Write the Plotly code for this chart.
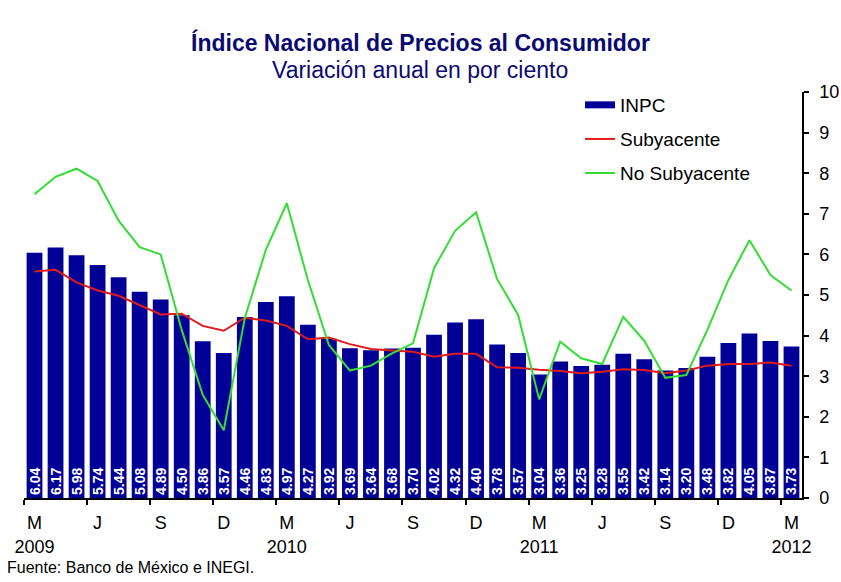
import plotly.graph_objects as go

# ---- data ----
inpc = [6.04, 6.17, 5.98, 5.74, 5.44, 5.08, 4.89, 4.50, 3.86, 3.57, 4.46, 4.83, 4.97,
        4.27, 3.92, 3.69, 3.64, 3.68, 3.70, 4.02, 4.32, 4.40, 3.78, 3.57, 3.04,
        3.36, 3.25, 3.28, 3.55, 3.42, 3.14, 3.20, 3.48, 3.82, 4.05, 3.87, 3.73]
subyacente = [5.58, 5.62, 5.31, 5.11, 4.98, 4.75, 4.52, 4.54, 4.24, 4.12, 4.44, 4.37, 4.24,
              3.91, 3.95, 3.79, 3.67, 3.63, 3.60, 3.48, 3.55, 3.55, 3.22, 3.21, 3.16,
              3.13, 3.07, 3.11, 3.17, 3.15, 3.07, 3.14, 3.26, 3.30, 3.30, 3.34, 3.26]
no_subyacente = [7.48, 7.91, 8.11, 7.81, 6.83, 6.18, 6.00, 4.14, 2.54, 1.67, 4.43, 6.11, 7.26,
                 5.37, 3.77, 3.14, 3.26, 3.56, 3.81, 5.66, 6.58, 7.04, 5.39, 4.51, 2.43,
                 3.85, 3.44, 3.30, 4.46, 3.87, 2.96, 3.03, 4.14, 5.37, 6.35, 5.49, 5.11]
months = list(range(len(inpc)))  # Mar 2009 .. Mar 2012
tick_pos = [0, 3, 6, 9, 12, 15, 18, 21, 24, 27, 30, 33, 36]
tick_text = ["M<br>2009", "J", "S", "D", "M<br>2010", "J", "S", "D",
             "M<br>2011", "J", "S", "D", "M<br>2012"]
boundary_ticks = [p - 0.5 for p in tick_pos]

FONT = "Arial, Liberation Sans, sans-serif"
NAVY = "#000096"
TITLE_COLOR = "#0a0a70"

fig = go.Figure()
fig.add_trace(go.Bar(
    x=months, y=inpc, name="INPC", marker=dict(color=NAVY, line=dict(width=0)),
    text=[f"{v:.2f}" for v in inpc], textposition="inside", insidetextanchor="start",
    textangle=-90, textfont=dict(color="white", size=14, family=FONT, weight="bold"),
    showlegend=False, cliponaxis=False,
))
fig.add_trace(go.Scatter(
    x=months, y=subyacente, name="Subyacente", mode="lines",
    line=dict(color="#e01b1b", width=2), legend="legend2",
))
fig.add_trace(go.Scatter(
    x=months, y=no_subyacente, name="No Subyacente", mode="lines",
    line=dict(color="#33dd33", width=2), legend="legend3",
))
# legend entry for INPC (wide flat swatch like the original)
fig.add_trace(go.Scatter(
    x=[None], y=[None], name="INPC", mode="lines",
    line=dict(color=NAVY, width=7), legend="legend",
))

legend_common = dict(x=0.7147, xanchor="left", yanchor="middle",
                     bgcolor="rgba(0,0,0,0)", font=dict(family=FONT, size=19, color="black"))

fig.update_layout(
    width=841, height=582,
    margin=dict(l=24, r=39, t=92, b=84, autoexpand=False),
    paper_bgcolor="white", plot_bgcolor="white",
    bargap=0.25,
    uniformtext=dict(minsize=14, mode="show"),
    font=dict(family=FONT, color="black"),
    legend=dict(y=0.968, **legend_common),
    legend2=dict(y=0.884, **legend_common),
    legend3=dict(y=0.800, **legend_common),
    xaxis=dict(
        range=[-0.5, 36.5], tickvals=tick_pos, ticktext=tick_text,
        ticks="", showline=True, linecolor="black", linewidth=1.5, automargin=False,
        showgrid=False, zeroline=False, tickfont=dict(size=18, family=FONT, color="black"),
        ticklabelstandoff=8,
        minor=dict(tickvals=boundary_ticks, ticks="outside", ticklen=5,
                   tickcolor="black", tickwidth=1.5),
    ),
    yaxis=dict(
        range=[0, 10], dtick=1, side="right", ticks="outside", ticklen=5,
        tickcolor="black", tickwidth=1.5, automargin=False,
        showline=True, linecolor="black", linewidth=1.5, showgrid=False, zeroline=False,
        tickfont=dict(size=18, family=FONT, color="black"), ticklabelstandoff=7,
    ),
    annotations=[
        dict(text="<b>Índice Nacional de Precios al Consumidor</b>", xref="paper", yref="paper",
             x=0.509, y=1.1207, xanchor="center", yanchor="middle", showarrow=False,
             font=dict(size=23, family=FONT, color=TITLE_COLOR)),
        dict(text="Variación anual en por ciento", xref="paper", yref="paper",
             x=0.509, y=1.054, xanchor="center", yanchor="middle", showarrow=False,
             font=dict(size=23, family=FONT, color=TITLE_COLOR)),
        dict(text="Fuente: Banco de México e INEGI.", xref="paper", yref="paper",
             x=-0.0244, y=-0.17, xanchor="left", yanchor="middle", showarrow=False,
             font=dict(size=16, family=FONT, color="black")),
    ],
)

fig.write_html("out.html")
